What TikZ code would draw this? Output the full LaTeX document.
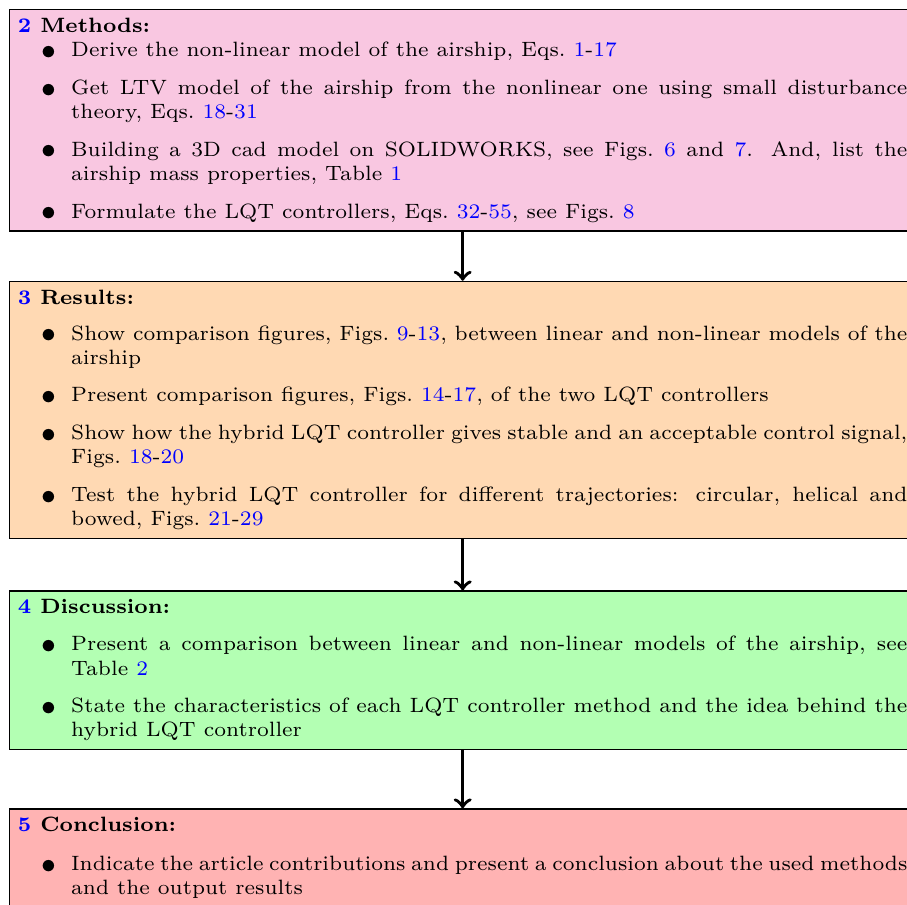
\documentclass[tikz,border=0pt]{standalone}
\usepackage{tikz}
\usepackage{xcolor}
\usetikzlibrary{positioning}

\definecolor{methodpink}{HTML}{F9C7E1}
\definecolor{resultorange}{HTML}{FFD9B3}
\definecolor{discgreen}{HTML}{B3FFB3}
\definecolor{conclred}{HTML}{FFB3B3}

\newcommand{\bluenum}[1]{\textcolor{blue}{#1}}
\newcommand{\stagebullet}{\raisebox{-0.9pt}[0pt][0pt]{\normalsize$\bullet$}}
\newenvironment{steplist}[1][3.9pt]{%
	\begin{list}{\stagebullet}{%
		\setlength{\leftmargin}{18pt}%
		\setlength{\labelsep}{5pt}%
		\setlength{\labelwidth}{13pt}%
		\setlength{\topsep}{#1}%
		\setlength{\partopsep}{0pt}%
		\setlength{\parsep}{0pt}%
		\setlength{\itemsep}{4.5pt}}}
	{\end{list}}

\tikzset{
	stagebox/.style={draw=black, text width=300.5pt, inner xsep=2.8pt, inner ysep=2.9pt,
		font=\fontsize{7}{8.2}\selectfont, align=justify, anchor=north},
}

\begin{document}
\begin{tikzpicture}
	\useasboundingbox (0,0) rectangle (306.4pt,-305.4pt);
	% stages of the paper
	\node[stagebox, fill=methodpink, anchor=north west] (methods) at (3.05pt,-3.05pt) {
		\textbf{\bluenum{2} Methods:}
		\begin{steplist}[0pt]
			\item Derive the non-linear model of the airship, Eqs.~\bluenum{1}-\bluenum{17}
			\item Get LTV model of the airship from the nonlinear one using small disturbance theory, Eqs.~\bluenum{18}-\bluenum{31}
			\item Building a 3D cad model on SOLIDWORKS, see Figs.~\bluenum{6} and \bluenum{7}. And, list the airship mass properties, Table~\bluenum{1}
			\item Formulate the LQT controllers, Eqs.~\bluenum{32}-\bluenum{55}, see Figs.~\bluenum{8}
		\end{steplist}};
	\node[stagebox, fill=resultorange, below=16.6pt of methods] (results) {
		\textbf{\bluenum{3} Results:}
		\begin{steplist}
			\item Show comparison figures, Figs.~\bluenum{9}-\bluenum{13}, between linear and non-linear models of the airship
			\item Present comparison figures, Figs.~\bluenum{14}-\bluenum{17}, of the two LQT controllers
			\item Show how the hybrid LQT controller gives stable and an acceptable control signal, Figs.~\bluenum{18}-\bluenum{20}
			\item Test the hybrid LQT controller for different trajectories: circular, helical and bowed, Figs.~\bluenum{21}-\bluenum{29}
		\end{steplist}};
	\node[stagebox, fill=discgreen, below=17.3pt of results] (discussion) {
		\textbf{\bluenum{4} Discussion:}
		\begin{steplist}[4.3pt]
			\item Present a comparison between linear and non-linear models of the airship, see Table~\bluenum{2}
			\item State the characteristics of each LQT controller method and the idea behind the hybrid LQT controller
		\end{steplist}};
	\node[stagebox, fill=conclred, below=19.6pt of discussion] (conclusion) {
		\textbf{\bluenum{5} Conclusion:}
		\begin{steplist}[4.8pt]
			\item Indicate the article contributions and present a conclusion about the used methods and the output results
		\end{steplist}};
	% arrows between the stages
	\foreach \a/\b in {methods/results, results/discussion, discussion/conclusion}
	{
		\draw[->, very thick] (\a.south) -- (\b.north);
	}
\end{tikzpicture}
\end{document}
